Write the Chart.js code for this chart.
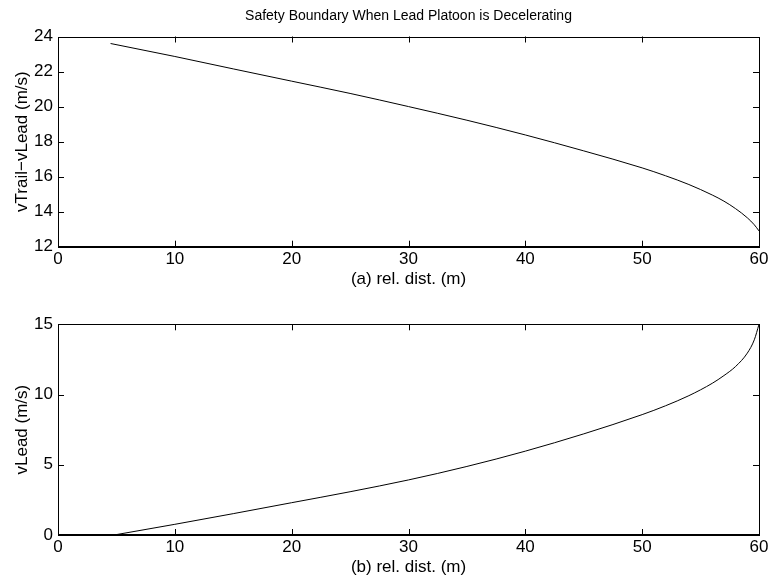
<!DOCTYPE html>
<html>
<head>
<meta charset="utf-8">
<script src="https://cdn.jsdelivr.net/npm/chart.js@4/dist/chart.umd.min.js"></script>
<style>
  html, body { margin: 0; padding: 0; background: #fff; }
  #wrap { position: relative; width: 773px; height: 584px; }
  .c { position: absolute; left: 0; width: 773px; height: 292px; }
</style>
</head>
<body>
<div id="wrap">
  <div class="c" style="top:0"><canvas id="c1"></canvas></div>
  <div class="c" style="top:292px"><canvas id="c2"></canvas></div>
</div>
<script>
// ---- data ----
const chartTitle = "Safety Boundary When Lead Platoon is Decelerating";
const relDistA = [4.5, 10, 15, 20, 25, 30, 35, 40, 45, 50, 52, 54, 56, 57, 58, 59, 59.6, 60];
const vTrailMinusLead = [23.6, 22.86, 22.15, 21.45, 20.75, 20.0, 19.22, 18.38, 17.47, 16.5, 16.05, 15.55, 14.95, 14.6, 14.17, 13.65, 13.25, 12.9];
const relDistB = [4.8, 10, 15, 20, 25, 30, 35, 40, 45, 50, 52, 54, 56, 57, 58, 59, 59.6, 60];
const vLead = [0, 0.76, 1.52, 2.30, 3.08, 3.92, 4.88, 5.97, 7.2, 8.57, 9.2, 9.92, 10.8, 11.35, 12.0, 12.95, 13.9, 15];
const xTicks = [0, 10, 20, 30, 40, 50, 60];
const yTicksA = [12, 14, 16, 18, 20, 22, 24];
const yTicksB = [0, 5, 10, 15];
const xLabelA = "(a) rel. dist. (m)";
const xLabelB = "(b) rel. dist. (m)";
const yLabelA = "vTrail\u2212vLead (m/s)";
const yLabelB = "vLead (m/s)";

const FONT = "'Liberation Sans', Arial, Helvetica, sans-serif";
const FS = 17;
Chart.defaults.font.family = FONT;
Chart.defaults.color = '#000';

function pts(xs, ys) { return xs.map((x, i) => ({ x: x, y: ys[i] })); }

// draws the MATLAB-style box with inward ticks on all four sides
const boxPlugin = {
  id: 'boxTicks',
  afterDatasetsDraw(chart) {
    const { ctx, chartArea: a, scales } = chart;
    const xs = scales.x, ys = scales.y;
    const L = 6;
    ctx.save();
    ctx.strokeStyle = '#000';
    ctx.lineWidth = 1;
    ctx.beginPath();
    xs.ticks.forEach(t => {
      if (t.value <= xs.min || t.value >= xs.max) return;
      const px = Math.round(xs.getPixelForValue(t.value)) + 0.5;
      ctx.moveTo(px, a.bottom); ctx.lineTo(px, a.bottom - L);
      ctx.moveTo(px, a.top); ctx.lineTo(px, a.top + L);
    });
    ys.ticks.forEach(t => {
      if (t.value <= ys.min || t.value >= ys.max) return;
      const py = Math.round(ys.getPixelForValue(t.value)) + 0.5;
      ctx.moveTo(a.left, py); ctx.lineTo(a.left + L, py);
      ctx.moveTo(a.right, py); ctx.lineTo(a.right - L, py);
    });
    ctx.stroke();
    ctx.lineWidth = 1;
    ctx.strokeRect(Math.round(a.left) + 0.5, Math.round(a.top) + 0.5,
                   Math.round(a.right - a.left), Math.round(a.bottom - a.top));
    ctx.lineWidth = 2;
    ctx.beginPath();
    ctx.moveTo(a.left, Math.round(a.bottom)); ctx.lineTo(a.right + 0.5, Math.round(a.bottom));
    ctx.stroke();
    const opt = chart.options.plugins.boxTicks;
    if (opt && opt.title) {
      ctx.fillStyle = '#000';
      ctx.font = '14px ' + FONT;
      ctx.textAlign = 'center';
      ctx.textBaseline = 'alphabetic';
      ctx.fillText(opt.title, (a.left + a.right) / 2, 20);
    }
    ctx.restore();
  }
};

function makeChart(id, xsArr, ysArr, yMin, yMax, yTickList, xLabel, yLabel, padTop, xHeight, xTickPad, xTitlePadBottom, title) {
  return new Chart(document.getElementById(id), {
    type: 'scatter',
    data: {
      datasets: [{
        data: pts(xsArr, ysArr),
        showLine: true,
        borderColor: '#000',
        borderWidth: 1,
        pointRadius: 0,
        cubicInterpolationMode: 'monotone',
        fill: false
      }]
    },
    plugins: [boxPlugin],
    options: {
      responsive: true,
      maintainAspectRatio: false,
      animation: false,
      layout: { padding: { top: padTop, right: 14, left: 0, bottom: 0 } },
      plugins: {
        legend: { display: false },
        tooltip: { enabled: false },
        boxTicks: { title: title }
      },
      scales: {
        x: {
          type: 'linear',
          min: 0, max: 60,
          afterBuildTicks: s => { s.ticks = xTicks.map(v => ({ value: v })); },
          afterFit: s => { s.height = xHeight; },
          grid: { display: false, drawTicks: false },
          border: { display: false },
          ticks: { font: { size: FS }, padding: xTickPad, color: '#000', maxRotation: 0 },
          title: { display: true, text: xLabel, font: { size: FS }, color: '#000',
                   padding: { top: 0, bottom: xTitlePadBottom } }
        },
        y: {
          type: 'linear',
          min: yMin, max: yMax,
          afterBuildTicks: s => { s.ticks = yTickList.map(v => ({ value: v })); },
          afterFit: s => { s.width = 58; },
          grid: { display: false, drawTicks: false },
          border: { display: false },
          ticks: { font: { size: FS }, padding: 5, color: '#000' },
          title: { display: true, text: yLabel, font: { size: FS }, color: '#000',
                   padding: { top: 11.8, bottom: 0 } }
        }
      }
    }
  });
}

makeChart('c1', relDistA, vTrailMinusLead, 12, 24, yTicksA, xLabelA, yLabelA, 36.5, 45.3, 2, 2.8, chartTitle);
makeChart('c2', relDistB, vLead, 0, 15, yTicksB, xLabelB, yLabelB, 32.3, 49, 2.4, 6.8, null);
</script>
</body>
</html>
